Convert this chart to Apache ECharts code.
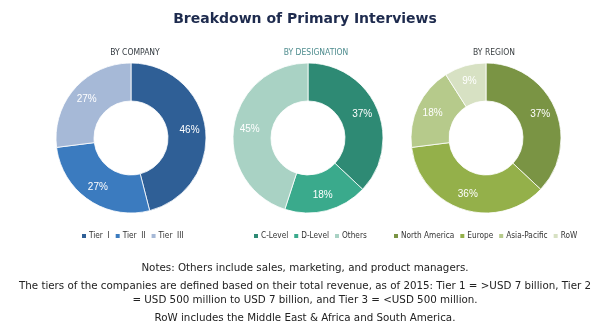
<!DOCTYPE html>
<html>
<head>
<meta charset="utf-8">
<script src="https://cdn.jsdelivr.net/npm/echarts@6/dist/echarts.min.js"></script>
<style>
  html, body { margin: 0; padding: 0; background: #fff; }
  #chart { width: 600px; height: 330px; }
</style>
</head>
<body>
<div id="chart"></div>
<script>
// Share of primary interviews, in percent
const companyNames = ['Tier  I', 'Tier  II', 'Tier  III'];
const companyValues = [46, 27, 27];
const designationNames = ['C-Level', 'D-Level', 'Others'];
const designationValues = [37, 18, 45];
const regionNames = ['North America', 'Europe', 'Asia-Pacific', 'RoW'];
const regionValues = [37, 36, 18, 9];

const companyColors = ['#2f5f96', '#3b7bbf', '#a6b9d7'];
const designationColors = ['#2e8a74', '#3aaa8c', '#a9d2c4'];
const regionColors = ['#7a9444', '#94b04a', '#b6ca8b', '#d7e1c3'];

const notes = [
  'Notes: Others include sales, marketing, and product managers.',
  'The tiers of the companies are defined based on their total revenue, as of 2015: Tier 1 = >USD 7 billion, Tier 2',
  '= USD 500 million to USD 7 billion, and Tier 3 = <USD 500 million.',
  'RoW includes the Middle East & Africa and South America.'
];

const narrow = '"Liberation Sans Narrow", "DejaVu Sans Condensed", sans-serif';

function donut(names, values, colors, cx) {
  return {
    type: 'pie',
    center: [cx, 138],
    radius: [37, 75],
    startAngle: 90,
    clockwise: true,
    avoidLabelOverlap: false,
    silent: true,
    itemStyle: { borderColor: '#ffffff', borderWidth: 0.8 },
    label: {
      position: 'inside',
      formatter: '{c}%',
      color: '#ffffff',
      fontFamily: 'Liberation Sans, Arial, sans-serif',
      fontSize: 10
    },
    labelLine: { show: false },
    data: names.map((n, i) => ({ name: n, value: values[i], itemStyle: { color: colors[i] } }))
  };
}

function legend(names, cx) {
  return {
    data: names,
    left: cx,
    top: 232,
    orient: 'horizontal',
    icon: 'rect',
    itemWidth: 6,
    itemHeight: 6,
    itemGap: 4,
    selectedMode: false,
    padding: 0,
    textStyle: { fontFamily: narrow, fontSize: 8.2, color: '#333', padding: [0, 0, 0, -3] }
  };
}

const chart = echarts.init(document.getElementById('chart'), null, { renderer: 'canvas' });

const titles = [
  {
    text: 'Breakdown of Primary Interviews',
    left: 300, top: 7, textAlign: 'center',
    textStyle: { fontFamily: 'DejaVu Sans, Verdana, sans-serif', fontWeight: 'bold', fontSize: 14, color: '#1e2b4e' }
  },
  { text: 'BY COMPANY', left: 130, top: 43, textAlign: 'center',
    textStyle: { fontFamily: narrow, fontWeight: 'normal', fontSize: 8.5, color: '#333a40' } },
  { text: 'BY DESIGNATION', left: 311, top: 43, textAlign: 'center',
    textStyle: { fontFamily: narrow, fontWeight: 'normal', fontSize: 8.5, color: '#4e8c8e' } },
  { text: 'BY REGION', left: 489, top: 43, textAlign: 'center',
    textStyle: { fontFamily: narrow, fontWeight: 'normal', fontSize: 8.5, color: '#3d4245' } }
];
const noteTops = [258, 276, 290, 308];
notes.forEach((t, i) => {
  titles.push({
    text: t, left: 300, top: noteTops[i], textAlign: 'center',
    textStyle: { fontFamily: '"DejaVu Sans", Tahoma, sans-serif', fontWeight: 'normal', fontSize: 10.3, color: '#222' }
  });
});

chart.setOption({
  animation: false,
  title: titles,
  legend: [
    legend(companyNames, 80),
    legend(designationNames, 252),
    legend(regionNames, 392)
  ],
  series: [
    donut(companyNames, companyValues, companyColors, 131),
    donut(designationNames, designationValues, designationColors, 308),
    donut(regionNames, regionValues, regionColors, 486)
  ]
});
</script>
</body>
</html>
